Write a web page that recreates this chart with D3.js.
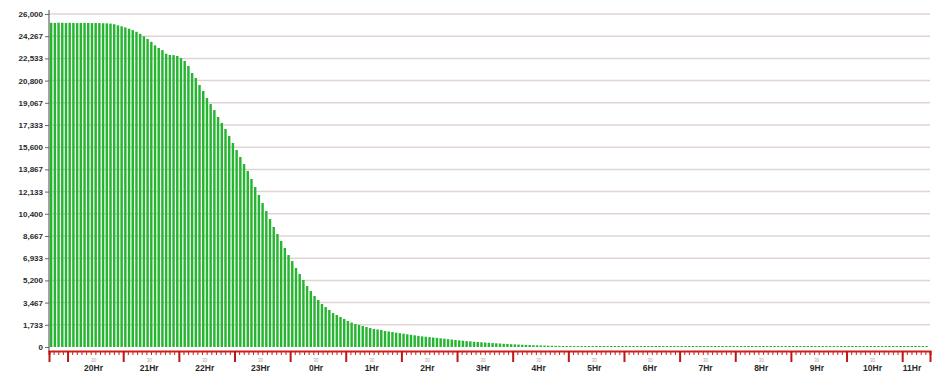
<!DOCTYPE html>
<html>
<head>
<meta charset="utf-8">
<script src="https://cdn.jsdelivr.net/npm/d3@7"></script>
<style>
  body { margin: 0; background: #fff; }
  svg { display: block; }
</style>
</head>
<body>
<svg id="chart" width="934" height="376"></svg>
<script>
// bar values, one every 4 minutes starting 19:41
var values = [
  25310, 25300, 25320, 25310, 25300, 25310, 25300, 25290, 25300, 25310, 25300, 25290, 25300, 25290, 25280, 25270,
  25250, 25200, 25120, 25040, 24950, 24850, 24740, 24610, 24450, 24250, 24050, 23830, 23550, 23350, 23180, 22900, 22800, 22790, 22720, 22560,
  22330, 21940, 21390, 21000, 20460, 19990, 19440, 18970, 18500, 17960, 17490, 17020, 16470, 15930, 15380, 14835, 14290, 13740, 13120, 12490,
  11870, 11240, 10620, 9990, 9370, 8820, 8280, 7730, 7180, 6710, 6170, 5700, 5230, 4760, 4370, 3980, 3670, 3360, 3120, 2890,
  2650, 2500, 2340, 2190, 2030, 1910, 1800, 1720, 1640, 1560, 1480, 1410, 1370, 1330, 1250, 1210, 1170, 1120, 1080, 1040,
  990, 950, 910, 870, 830, 800, 770, 740, 710, 680, 650, 610, 580, 550, 520, 490, 460, 440, 410, 390,
  370, 350, 330, 310, 290, 270, 250, 235, 220, 205, 190, 175, 160, 150, 140, 130, 120, 110, 100, 95, 90, 85, 80, 75,
  72, 70, 70, 68, 67, 66, 66, 65, 64, 63,
  62, 62, 61, 60, 60, 59, 58, 58, 57, 57,
  56, 56, 55, 55, 55, 54, 54, 53, 53, 53,
  52, 52, 52, 51, 51, 51, 50, 50, 50, 50,
  50, 49, 49, 49, 49, 48, 48, 48, 48, 48,
  47, 47, 47, 47, 47, 46, 46, 46, 46, 46,
  46, 45, 45, 45, 45, 45, 45, 44, 44, 44,
  44, 44, 44, 44, 43, 43, 43, 43, 43, 43,
  43, 42, 42, 42, 42, 42, 42, 42, 42, 41,
  41, 41, 41, 41, 41, 41, 41
];
var firstBarMin = 41;   // minutes after 19:00
var barStepMin = 4;
var yTicks = [0, 1733, 3467, 5200, 6933, 8667, 10400, 12133, 13867, 15600, 17333, 19067, 20800, 22533, 24267, 26000];
var hourLabels = ["20Hr", "21Hr", "22Hr", "23Hr", "0Hr", "1Hr", "2Hr", "3Hr", "4Hr", "5Hr", "6Hr", "7Hr", "8Hr", "9Hr", "10Hr", "11Hr"];

(function () {
    var svg = d3.select('#chart');
    var plotLeft = 49, plotRight = 930, plotTop = 14, base = 347, axisY = 351;

    var x = d3.scaleLinear().domain([40, 990]).range([plotLeft, plotRight]);
    var y = d3.scaleLinear().domain([0, 26000]).range([base, plotTop]);

    // grid lines
    svg.append('g')
        .selectAll('line')
        .data(yTicks.slice(1))
        .enter()
        .append('line')
        .attr('x1', plotLeft).attr('x2', plotRight)
        .attr('y1', function (d) { return y(d); })
        .attr('y2', function (d) { return y(d); })
        .attr('stroke', '#dfd3d3')
        .attr('stroke-width', 1.5);

    // bars
    var barW = (x(barStepMin) - x(0)) * 0.66;
    svg.append('g')
        .selectAll('rect')
        .data(values)
        .enter()
        .append('rect')
        .attr('x', function (d, i) { return x(firstBarMin + i * barStepMin); })
        .attr('width', barW)
        .attr('y', function (d) { return Math.min(y(d), base - 1); })
        .attr('height', function (d) { return Math.max(base - y(d), 1); })
        .attr('fill', '#26b531');

    // y axis
    var yAxis = svg.append('g')
        .attr('transform', 'translate(' + plotLeft + ',0)')
        .call(d3.axisLeft(y).tickValues(yTicks).tickSize(4).tickPadding(2).tickFormat(d3.format(',')));
    yAxis.select('.domain').remove();
    yAxis.selectAll('line').attr('stroke', '#666');
    yAxis.selectAll('text')
        .style('font-family', '"Liberation Sans", Arial, sans-serif')
        .style('font-size', '8px')
        .style('font-weight', 'bold')
        .attr('fill', '#2a2a2a');
    svg.append('line')
        .attr('x1', plotLeft).attr('x2', plotLeft)
        .attr('y1', 10).attr('y2', axisY + 1)
        .attr('stroke', '#666').attr('stroke-width', 1.2);

    // x axis: minor ticks every 5 minutes, major ticks each hour
    var minorTicks = d3.range(40, 991, 5);
    var hourStarts = hourLabels.map(function (d, i) { return 60 * (i + 1); });
    var majorTicks = [40].concat(hourStarts, [990]);

    var xMinor = svg.append('g')
        .attr('transform', 'translate(0,' + axisY + ')')
        .call(d3.axisBottom(x).tickValues(minorTicks).tickSize(4).tickFormat(''));
    xMinor.select('.domain').attr('stroke', '#cc2020').attr('stroke-width', 2);
    xMinor.selectAll('.tick line').attr('stroke', '#cc2020');

    var xMajor = svg.append('g')
        .attr('transform', 'translate(0,' + axisY + ')')
        .call(d3.axisBottom(x).tickValues(majorTicks).tickSize(11).tickFormat(''));
    xMajor.select('.domain').remove();
    xMajor.selectAll('.tick line').attr('stroke', '#bb1818').attr('stroke-width', 2);

    // hour labels
    var labels = svg.append('g');
    labels.selectAll('text.hr')
        .data(hourLabels)
        .enter()
        .append('text')
        .attr('class', 'hr')
        .attr('x', function (d, i) { return Math.min(x(hourStarts[i] + 28), 912); })
        .attr('y', 371)
        .attr('text-anchor', 'middle')
        .style('font-family', '"Liberation Sans", Arial, sans-serif')
        .style('font-size', '8.5px')
        .style('font-weight', 'bold')
        .attr('fill', '#2a2a2a')
        .text(function (d) { return d; });

    labels.selectAll('text.mn')
        .data(hourStarts.slice(0, hourStarts.length - 1))
        .enter()
        .append('text')
        .attr('class', 'mn')
        .attr('x', function (d) { return x(d + 28); })
        .attr('y', 362)
        .attr('text-anchor', 'middle')
        .style('font-family', '"Liberation Sans", Arial, sans-serif')
        .style('font-size', '4.5px')
        .attr('fill', '#aaa')
        .text('30');
})();
</script>
</body>
</html>
